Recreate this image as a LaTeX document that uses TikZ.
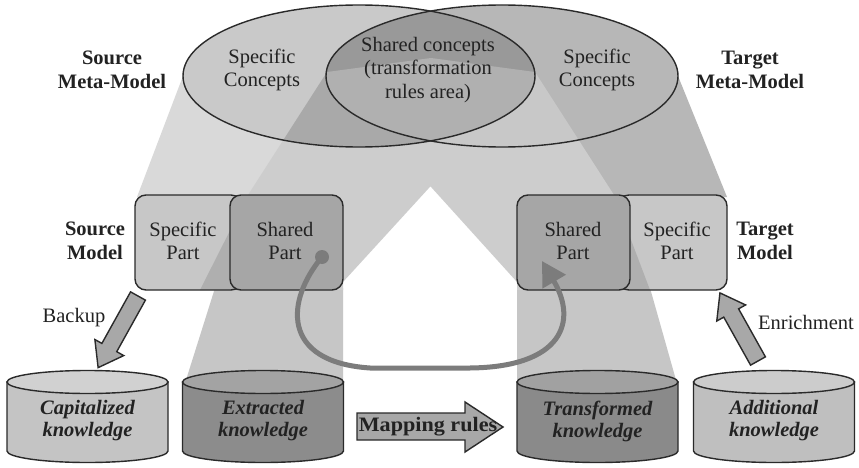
\documentclass[tikz,border=0pt]{standalone}
\usepackage{fontspec}
\usepackage{graphicx}
\setmainfont{Liberation Serif}
\usetikzlibrary{arrows.meta}
\definecolor{ln}{HTML}{2A2A2A}
\definecolor{txt}{HTML}{222222}
\definecolor{beamA}{HTML}{D9D9D9}
\definecolor{beamBD}{HTML}{CDCDCD}
\definecolor{beamCE}{HTML}{C6C6C6}
\definecolor{beamF}{HTML}{B7B7B7}
\definecolor{ellL}{HTML}{C9C9C9}
\definecolor{ellR}{HTML}{B7B7B7}
\definecolor{wedgeL}{HTML}{A9A9A9}
\definecolor{wedgeR}{HTML}{C8C8C8}
\definecolor{lensT}{HTML}{999999}
\definecolor{lensB}{HTML}{B0B0B0}
\definecolor{specbox}{HTML}{C7C7C7}
\definecolor{specwedge}{HTML}{AFAFAF}
\definecolor{sharebox}{HTML}{A6A6A6}
\definecolor{flow}{HTML}{7C7C7C}
\definecolor{arrowfill}{HTML}{A8A8A8}
\newcommand{\dbcyl}[3]{%
  \path[fill=#2, outl] (#1-80.5,382) -- (#1-80.5,451) arc[start angle=180, end angle=360, x radius=80.5pt, y radius=11.5pt] -- (#1+80.5,382) -- cycle;
  \path[fill=#3, outl] (#1,382) ellipse[x radius=80.5pt, y radius=11.5pt];
}
\tikzset{
  pB/.style={insert path={(327,72) -- (431,58) -- (535,72) -- (343,282) -- (343,290) -- (200,290) -- (248,195) -- cycle}},
  pD/.style={insert path={(327,72) -- (431,58) -- (535,72) -- (614,195) -- (650,290) -- (517,290) -- (517,282) -- cycle}},
  pA/.style={insert path={(183,76) -- (137,197) -- (262,197) -- (330,76) -- cycle}},
  pC/.style={insert path={(215,288) -- (343,288) -- (343,380) -- (186,380) -- cycle}},
  pE/.style={insert path={(517,288) -- (650,288) -- (676,380) -- (517,380) -- cycle}},
  pF/.style={insert path={(540,76) -- (678,76) -- (727,197) -- (600,197) -- cycle}},
  pL/.style={insert path={(359,76) ellipse[x radius=176pt, y radius=71pt]}},
  pR/.style={insert path={(502,76) ellipse[x radius=176pt, y radius=71pt]}},
  outl/.style={draw=ln, line width=1.4pt},
  lbl/.style={inner sep=0pt, align=center, text=txt, font=\fontsize{20.5}{23.5}\selectfont},
  blbl/.style={lbl, font=\fontsize{20.5}{23.5}\selectfont\bfseries},
  clbl/.style={lbl, font=\fontsize{20.5}{22}\selectfont\bfseries\itshape},
}
\begin{document}
\begin{tikzpicture}[x=1pt,y=-1pt]
\useasboundingbox[fill=white] (0,0) rectangle (859,468);
% projection beams
\path[fill=beamF, pF];
\path[fill=beamA, pA];
\path[fill=beamCE, pC];
\path[fill=beamCE, pE];
\path[fill=beamBD, pB, pD];
% meta-model ellipses
\path[fill=ellL, pL];
\path[fill=ellR, pR];
\begin{scope}
  \path[clip, pL];
  \path[fill=wedgeL, pB];
\end{scope}
\begin{scope}
  \path[clip, pR];
  \path[fill=wedgeR, pD];
\end{scope}
\begin{scope}
  \path[clip, pL];
  \path[clip, pR];
  \path[fill=lensT] (300,0) rectangle (560,160);
  \path[fill=lensB, pB, pD];
\end{scope}
\path[outl, pL];
\path[outl, pR];
% source model
\path[fill=specbox, rounded corners=11pt] (135,195) rectangle (242,290);
\begin{scope}
  \clip (135,195) rectangle (242,290);
  \path[fill=specwedge, pB];
\end{scope}
\path[outl, rounded corners=11pt] (135,195) rectangle (242,290);
\path[fill=sharebox, outl, rounded corners=11pt] (230,195) rectangle (343,290);
% target model
\path[fill=specbox, rounded corners=11pt] (618,195) rectangle (727,290);
\begin{scope}
  \clip (618,195) rectangle (727,290);
  \path[fill=specwedge, pD];
\end{scope}
\path[outl, rounded corners=11pt] (618,195) rectangle (727,290);
\path[fill=sharebox, outl, rounded corners=11pt] (517,195) rectangle (630,290);
% knowledge bases
\dbcyl{87.5}{black!23}{black!18}
\dbcyl{263}{black!45}{black!36}
\dbcyl{597.5}{black!46}{black!37}
\dbcyl{774}{black!25}{black!20}
% fat arrows
\begin{scope}[shift={(138,296)}, rotate=240.9]
  \path[fill=arrowfill, outl] (0,-8.5) -- (59,-8.5) -- (59,-16.5) -- (82,0) -- (59,16.5) -- (59,8.5) -- (0,8.5) -- cycle;
\end{scope}
\begin{scope}[shift={(758,361)}, rotate=119.2]
  \path[fill=arrowfill, outl] (0,-8.5) -- (55,-8.5) -- (55,-16.5) -- (78,0) -- (55,16.5) -- (55,8.5) -- (0,8.5) -- cycle;
\end{scope}
\path[fill=arrowfill, outl] (357,413) -- (465,413) -- (465,402) -- (503,427) -- (465,452) -- (465,440) -- (357,440) -- cycle;
% transformation flow
\node[circle, fill=flow, inner sep=0pt, minimum size=14pt] (dot) at (322,257) {};
\coordinate (tip) at (542,261);
\draw[flow, line width=5pt, -{Triangle[length=24pt, width=26pt]}] (dot.center) .. controls (286,300) and (280,362) .. (370,368) -- (470,368) .. controls (562,367) and (578,322) .. (tip);
% labels
\node[blbl] (smm) at (112,70) {Source\\Meta-Model};
\node[lbl] (lspec) at (262,70) {Specific\\Concepts};
\node[lbl] (shared) at (428,70) {Shared concepts\\(transformation\\rules area)};
\node[lbl] (rspec) at (597,70) {Specific\\Concepts};
\node[blbl] (tmm) at (750,70) {Target\\Meta-Model};
\node[blbl] (sm) at (95,241) {Source\\Model};
\node[lbl] (ssp) at (183,241) {Specific\\Part};
\node[lbl] (sshp) at (285,241) {Shared\\Part};
\node[lbl] (tshp) at (573,241) {Shared\\Part};
\node[lbl] (tsp) at (677,241) {Specific\\Part};
\node[blbl] (tm) at (765,241) {Target\\Model};
\node[lbl] (backup) at (74,318) {Backup};
\node[lbl] (enrich) at (806,322) {Enrichment};
\node[clbl] (capk) at (87.5,421) {Capitalized\\knowledge};
\node[clbl] (extk) at (263,421) {Extracted\\knowledge};
\node[clbl] (trak) at (597.5,421) {Transformed\\knowledge};
\node[clbl] (addk) at (774,421) {Additional\\knowledge};
\node[blbl] (map) at (428,427) {\scalebox{1.08}[1]{Mapping rules}};
\end{tikzpicture}
\end{document}
